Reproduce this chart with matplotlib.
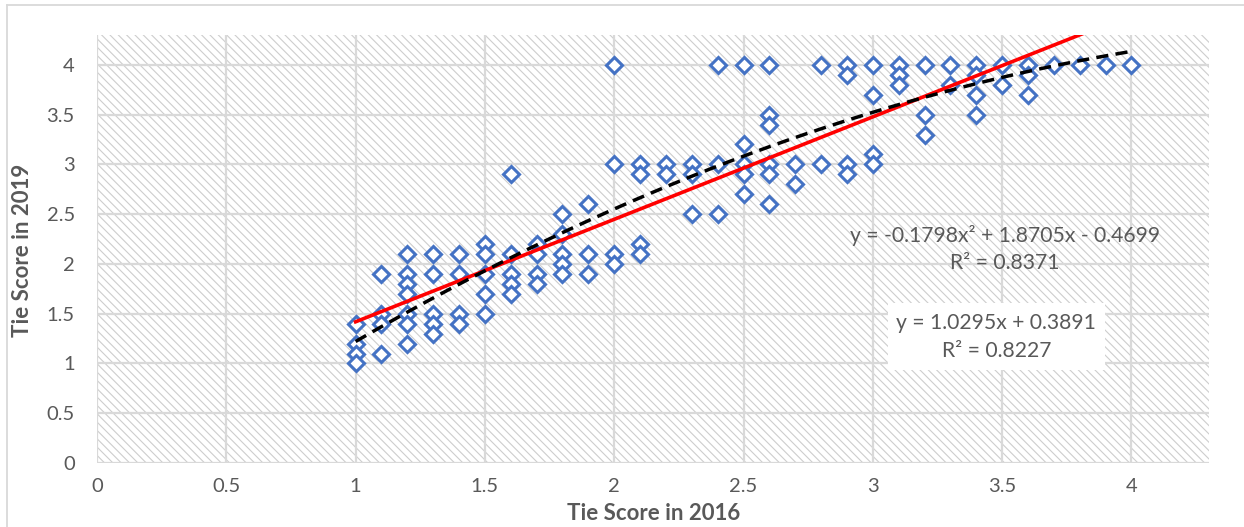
import matplotlib
matplotlib.use("Agg")
import matplotlib.pyplot as plt
import numpy as np
from matplotlib.patches import Rectangle
from matplotlib.lines import Line2D

plt.rcParams['font.family'] = ['Lato', 'DejaVu Sans']
plt.rcParams['hatch.linewidth'] = 0.8

# Tie scores per respondent (2016 vs 2019)
score_2016 = (
    [1.0] * 4 + [1.1] * 4 + [1.2] * 7 + [1.3] * 5 + [1.4] * 4 + [1.5] * 5 +
    [1.6] * 5 + [1.7] * 4 + [1.8] * 5 + [1.9] * 3 + [2.0] * 4 + [2.1] * 4 +
    [2.2] * 2 + [2.3] * 3 + [2.4] * 3 + [2.5] * 5 + [2.6] * 6 + [2.7] * 2 +
    [2.8] * 2 + [2.9] * 4 + [3.0] * 4 + [3.1] * 3 + [3.2] * 3 + [3.3] * 2 +
    [3.4] * 4 + [3.5] * 2 + [3.6] * 3 + [3.7] + [3.8] + [3.9] + [4.0]
)
score_2019 = [
    1.4, 1.2, 1.1, 1.0,
    1.9, 1.5, 1.4, 1.1,
    2.1, 1.9, 1.8, 1.7, 1.5, 1.4, 1.2,
    2.1, 1.9, 1.5, 1.4, 1.3,
    2.1, 1.9, 1.5, 1.4,
    2.2, 2.1, 1.9, 1.7, 1.5,
    2.9, 2.1, 1.9, 1.8, 1.7,
    2.2, 2.1, 1.9, 1.8,
    2.5, 2.3, 2.1, 2.0, 1.9,
    2.6, 2.1, 1.9,
    4.0, 3.0, 2.1, 2.0,
    3.0, 2.9, 2.2, 2.1,
    3.0, 2.9,
    3.0, 2.9, 2.5,
    4.0, 3.0, 2.5,
    4.0, 3.2, 3.0, 2.9, 2.7,
    4.0, 3.5, 3.4, 3.0, 2.9, 2.6,
    3.0, 2.8,
    4.0, 3.0,
    4.0, 3.9, 3.0, 2.9,
    4.0, 3.7, 3.1, 3.0,
    4.0, 3.9, 3.8,
    4.0, 3.5, 3.3,
    4.0, 3.8,
    4.0, 3.9, 3.7, 3.5,
    4.0, 3.8,
    4.0, 3.9, 3.7,
    4.0, 4.0, 4.0, 4.0,
]

# Trendline coefficients
linear_coef = [1.0295, 0.3891]              # slope, intercept
linear_r2 = 0.8227
quad_coef = [-0.1798, 1.8705, -0.4699]      # a, b, c
quad_r2 = 0.8371

axis_ticks = [0, 0.5, 1, 1.5, 2, 2.5, 3, 3.5, 4]
x_label = "Tie Score in 2016"
y_label = "Tie Score in 2019"

W, H = 1244, 527
fig = plt.figure(figsize=(W / 100, H / 100), dpi=100)
ax = fig.add_axes([97 / W, 1 - 463 / H, (1209 - 97) / W, (463 - 35) / H])

# hatched plot area (hatch takes the edge colour; outline itself hidden)
ax.set_facecolor('white')
ax.add_patch(Rectangle((0, 0), 1, 1, transform=ax.transAxes, facecolor='white',
                       edgecolor='#cdcdcd', linewidth=0, hatch='\\\\\\\\', zorder=0))

ax.set_xlim(0, 4.3)
ax.set_ylim(0, 4.3)
ax.set_xticks(axis_ticks)
ax.set_yticks(axis_ticks)
ax.set_xticklabels([f"{t:g}" for t in axis_ticks])
ax.set_yticklabels([f"{t:g}" for t in axis_ticks])
ax.grid(True, color='#d9d9d9', linewidth=1.6, zorder=1)
ax.set_axisbelow(False)
for s in ax.spines.values():
    s.set_visible(False)
ax.tick_params(length=0, labelsize=14.5, labelcolor='#595959')
ax.tick_params(axis='x', pad=11)
ax.tick_params(axis='y', pad=16)

ax.plot(score_2016, score_2019, linestyle='none', marker='D', markersize=8.0,
        markerfacecolor='white', markeredgecolor='#4472C4', markeredgewidth=2.2,
        zorder=3, clip_on=False)

xmin, xmax = min(score_2016), max(score_2016)
xl = np.linspace(xmin, xmax, 200)
ax.plot(xl, linear_coef[0] * xl + linear_coef[1], color='#ff0000', linewidth=2.6,
        zorder=4)
ax.plot(xl, quad_coef[0] * xl ** 2 + quad_coef[1] * xl + quad_coef[2], color='black',
        linewidth=2.5, linestyle=(0, (3.5, 2.1)), zorder=5)

txt_kw = dict(color='#595959', fontsize=15.2, ha='center', va='center', zorder=6)
ax.text(3.51, 2.29,
        f"y = {quad_coef[0]:.4f}x\u00b2 + {quad_coef[1]:.4f}x - {abs(quad_coef[2]):.4f}",
        **txt_kw)
ax.text(3.51, 2.01, f"R\u00b2 = {quad_r2:.4f}", **txt_kw)

ax.add_patch(Rectangle((3.059, 0.935), 3.898 - 3.059, 1.608 - 0.935,
                       facecolor='white', edgecolor='none', zorder=5.5))
ax.text(3.478, 1.405, f"y = {linear_coef[0]:.4f}x + {linear_coef[1]:.4f}", **txt_kw)
ax.text(3.478, 1.125, f"R\u00b2 = {linear_r2:.4f}", **txt_kw)

fig.text(654 / W, 1 - 513 / H, x_label, ha='center', va='center', fontsize=16,
         fontweight='bold', color='#595959')
fig.text(23 / W, 1 - 250 / H, y_label, ha='center', va='center', fontsize=16,
         fontweight='bold', color='#595959', rotation=90)

# chart border
fig.add_artist(Line2D([7 / W, 7 / W], [0, 1 - 5 / H], color='#d9d9d9', linewidth=1.3))
fig.add_artist(Line2D([7 / W, 1.0], [1 - 5 / H, 1 - 5 / H], color='#d9d9d9', linewidth=1.3))

fig.savefig('out.png', dpi=100)
